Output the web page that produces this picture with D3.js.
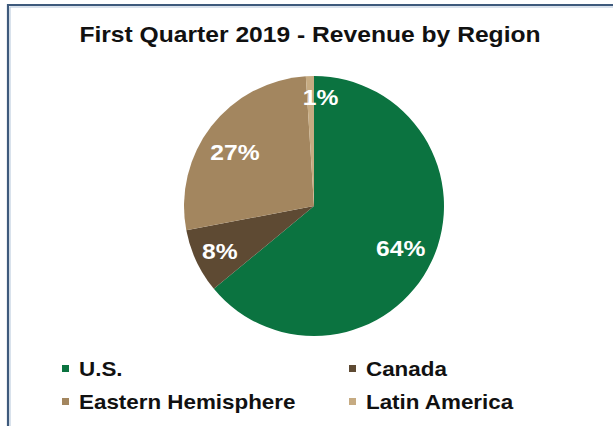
<!DOCTYPE html>
<html>
<head>
<meta charset="utf-8">
<script src="https://cdn.jsdelivr.net/npm/d3@7"></script>
<style>
  body { margin: 0; background: #fff; }
  text { font-family: "Liberation Sans", Arial, sans-serif; font-weight: bold; }
</style>
</head>
<body>
<div id="chart"></div>
<script>
const regions = ["U.S.", "Canada", "Eastern Hemisphere", "Latin America"];
const shares = [64, 8, 27, 1];
const colors = ["#0b7340", "#5e4a33", "#a3865f", "#c6ab82"];
// where each label sits, as a fraction of the radius, plus a small nudge
const labelPos = [0.72, 0.8, 0.74, 0.84];
const labelNudge = [[2, 2], [0, 1], [-3, 5], [10, 0]];

const width = 613, height = 426;
const svg = d3.select("#chart")
  .append("svg")
  .attr("width", width)
  .attr("height", height);

// frame: only top and left edges show
svg.append("path")
  .attr("d", "M8,426 V5 H613")
  .attr("fill", "none")
  .attr("stroke", "#3e5a7c")
  .attr("stroke-width", 2.2);
svg.append("path")
  .attr("d", "M10,426 V7 H613")
  .attr("fill", "none")
  .attr("stroke", "#b4c6da")
  .attr("stroke-width", 1);

// the source image is a bit stretched sideways, so text gets an x-scale
svg.append("text")
  .attr("transform", "translate(310,42) scale(1.12,1)")
  .attr("text-anchor", "middle")
  .attr("font-size", 22)
  .attr("fill", "#111")
  .text("First Quarter 2019 - Revenue by Region");

const cx = 314, cy = 206, r = 130;
const pie = d3.pie().sort(null).value(d => d);
const arc = d3.arc().innerRadius(0).outerRadius(r);
const arcs = pie(shares);

const g = svg.append("g").attr("transform", `translate(${cx},${cy})`);

g.selectAll("path.slice")
  .data(arcs)
  .enter()
  .append("path")
  .attr("class", "slice")
  .attr("d", arc)
  .attr("fill", (d, i) => colors[i]);

g.selectAll("text.lbl")
  .data(arcs)
  .enter()
  .append("text")
  .attr("class", "lbl")
  .attr("transform", (d, i) => {
    const a = (d.startAngle + d.endAngle) / 2;
    const rr = r * labelPos[i];
    const x = Math.sin(a) * rr + labelNudge[i][0];
    const y = -Math.cos(a) * rr + labelNudge[i][1];
    return `translate(${x},${y}) scale(1.12,1)`;
  })
  .attr("text-anchor", "middle")
  .attr("dy", "0.36em")
  .attr("font-size", 22)
  .attr("fill", "#fff")
  .text(d => d.value + "%");

// legend, two columns
const legX = [62, 349], legY = [368, 401];
const leg = svg.selectAll("g.leg")
  .data(regions)
  .enter()
  .append("g")
  .attr("class", "leg")
  .attr("transform", (d, i) => `translate(${legX[i % 2]},${legY[Math.floor(i / 2)]})`);

leg.append("rect")
  .attr("x", 0)
  .attr("y", -3)
  .attr("width", 7)
  .attr("height", 7)
  .attr("fill", (d, i) => colors[i]);

leg.append("text")
  .attr("transform", "translate(17,8) scale(1.12,1)")
  .attr("font-size", 20)
  .attr("fill", "#111")
  .text(d => d);
</script>
</body>
</html>
